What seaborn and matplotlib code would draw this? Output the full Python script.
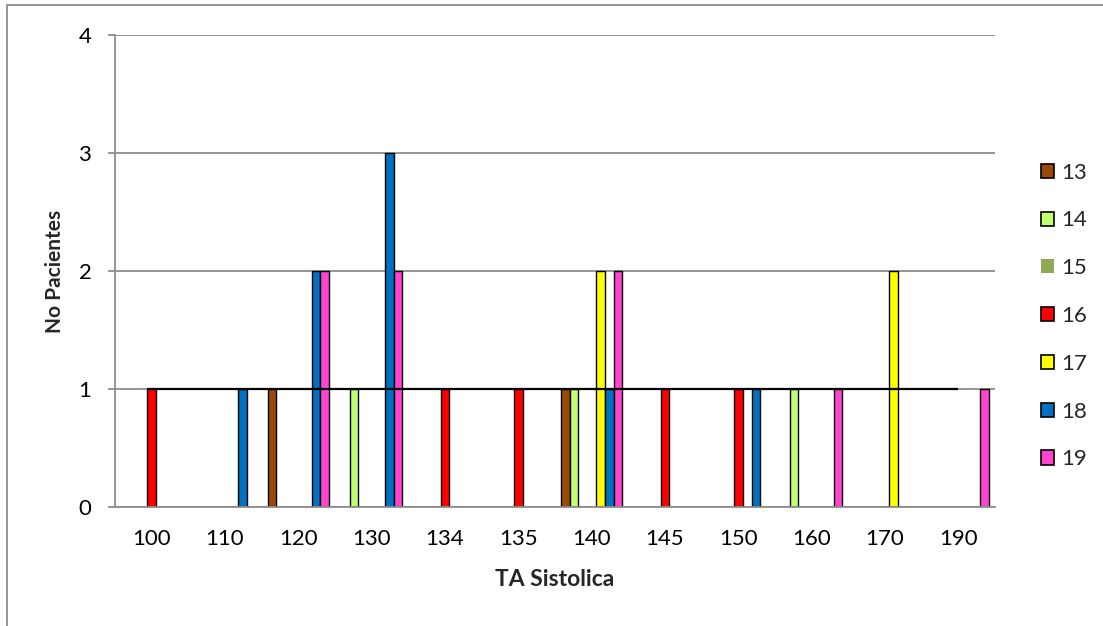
import matplotlib
matplotlib.use("Agg")
import matplotlib.pyplot as plt
from matplotlib.patches import Patch
from matplotlib.lines import Line2D
import pandas as pd
import seaborn as sns

# Systolic pressure categories (x axis) and age groups (series)
categories = ["100", "110", "120", "130", "134", "135", "140", "145", "150", "160", "170", "190"]
series = ["13", "14", "15", "16", "17", "18", "19"]

# Number of patients per category for each age group
s13 = [0, 0, 1, 0, 0, 0, 1, 0, 0, 0, 0, 0]
s14 = [0, 0, 0, 1, 0, 0, 1, 0, 0, 1, 0, 0]
s15 = [0, 0, 0, 0, 0, 0, 0, 0, 0, 0, 0, 0]
s16 = [1, 0, 0, 0, 1, 1, 0, 1, 1, 0, 0, 0]
s17 = [0, 0, 0, 0, 0, 0, 2, 0, 0, 0, 2, 0]
s18 = [0, 1, 2, 3, 0, 0, 1, 0, 1, 0, 0, 0]
s19 = [0, 0, 2, 2, 0, 0, 2, 0, 0, 1, 0, 1]

colors = ["#9A4A06", "#C2FF72", "#8FAA52", "#FF0000", "#FFFF00", "#0070C0", "#FF44D0"]

rows = []
for name, vals in zip(series, [s13, s14, s15, s16, s17, s18, s19]):
    for cat, v in zip(categories, vals):
        if v > 0:
            rows.append({"TA": cat, "Edad": name, "Pacientes": v})
df = pd.DataFrame(rows)

sns.set_theme(style="white")
plt.rcParams["font.family"] = ["Lato", "DejaVu Sans"]

fig = plt.figure(figsize=(11.03, 6.26), dpi=100)
ax = fig.add_axes([115 / 1103, 1 - 507 / 626, 880 / 1103, 472 / 626])

sns.barplot(data=df, x="TA", y="Pacientes", hue="Edad",
            order=categories, hue_order=series,
            palette=dict(zip(series, colors)), saturation=1,
            width=0.84, dodge=True, gap=0,
            edgecolor="black", linewidth=1.0,
            legend=False, ax=ax, zorder=2)

# Reference line at one patient
ax.hlines(1, -0.06, 11.0, color="black", linewidth=1.6, zorder=3)

ax.set_xlim(-0.5, len(categories) - 0.5)
ax.set_ylim(0, 4)
ax.set_yticks([0, 1, 2, 3, 4])
ax.yaxis.grid(True, color="#8C8C8C", linewidth=1.3)
ax.set_axisbelow(True)

for side in ["top", "right"]:
    ax.spines[side].set_visible(False)
for side in ["left", "bottom"]:
    ax.spines[side].set_color("#8C8C8C")
    ax.spines[side].set_linewidth(1.3)

ax.tick_params(axis="y", which="major", left=True, length=5, width=1.3,
               color="#8C8C8C", pad=12, labelsize=16, labelcolor="black")
ax.tick_params(axis="x", which="major", bottom=False, length=0, pad=16,
               labelsize=16, labelcolor="black")

ax.set_xlabel("TA Sistolica", fontsize=16.5, fontweight="bold", labelpad=14)
ax.set_ylabel("No Pacientes", fontsize=15, fontweight="bold", labelpad=10)

handles = []
for name, c in zip(series, colors):
    ec = "none" if name == "15" else "black"
    handles.append(Patch(facecolor=c, edgecolor=ec, linewidth=1.2, label=name))
fig.legend(handles=handles, loc="center left", bbox_to_anchor=(1030 / 1103, 1 - 316 / 626),
           frameon=False, fontsize=16, handlelength=0.6, handleheight=0.6,
           handletextpad=0.3, labelspacing=1.25, borderpad=0)

# Outer frame lines
fig.add_artist(Line2D([7 / 1103, 1], [1 - 5 / 626, 1 - 5 / 626], color="#8C8C8C", linewidth=1.3))
fig.add_artist(Line2D([7 / 1103, 7 / 1103], [0, 1 - 5 / 626], color="#8C8C8C", linewidth=1.3))

fig.savefig("out.png", dpi=100)
